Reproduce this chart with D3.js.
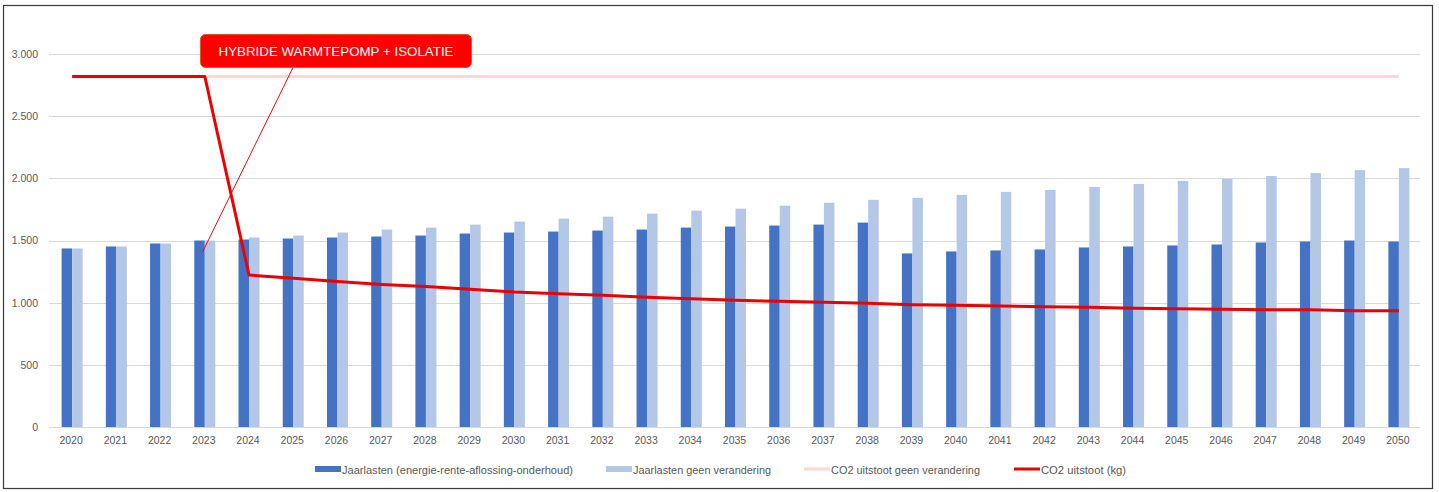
<!DOCTYPE html>
<html>
<head>
<meta charset="utf-8">
<script src="https://cdn.jsdelivr.net/npm/d3@7"></script>
<style>
  html, body { margin: 0; padding: 0; background: #fff; }
  svg { display: block; }
  text { font-family: "Liberation Sans", Arial, sans-serif; }
</style>
</head>
<body>
<svg id="chart" width="1439" height="492"></svg>
<script>
// ---- data ----
const years = [2020,2021,2022,2023,2024,2025,2026,2027,2028,2029,2030,2031,2032,2033,2034,2035,2036,2037,2038,2039,2040,2041,2042,2043,2044,2045,2046,2047,2048,2049,2050];
const jaarlasten = [1436,1452,1476,1500,1508,1516,1524,1532,1540,1556,1564,1572,1580,1588,1604,1612,1620,1628,1644,1396,1412,1420,1428,1444,1452,1460,1468,1484,1492,1500,1492];
const jaarlastenGeen = [1436,1452,1476,1500,1524,1540,1564,1588,1604,1628,1652,1676,1692,1716,1740,1756,1780,1804,1827,1843,1867,1891,1907,1931,1955,1979,1995,2019,2043,2066,2082];
const co2Geen = [2820,2820,2820,2820,2820,2820,2820,2820,2820,2820,2820,2820,2820,2820,2820,2820,2820,2820,2820,2820,2820,2820,2820,2820,2820,2820,2820,2820,2820,2820,2820];
const co2 = [2820,2820,2820,2820,1222,1197,1170,1147,1130,1108,1086,1072,1059,1043,1032,1019,1011,1003,995,984,979,973,968,963,955,952,947,944,944,934,934];
const yTicks = [0,500,1000,1500,2000,2500,3000];
const seriesNames = ["Jaarlasten (energie-rente-aflossing-onderhoud)","Jaarlasten geen verandering","CO2 uitstoot geen verandering","CO2 uitstoot (kg)"];
const annotationText = "HYBRIDE WARMTEPOMP + ISOLATIE";
const annotationYear = 2023;

// ---- layout ----
const svg = d3.select("#chart");
const plot = {left: 49, right: 1420, top: 54, bottom: 427};
const colDark = "#4472C4", colLight = "#B4C7E7", colPink = "#FFD5D5", colRed = "#EE0000";
const fmt = v => d3.format(",")(v).replace(/,/g, ".");

svg.append("rect").attr("x", 3.5).attr("y", 5.5).attr("width", 1429).attr("height", 483)
  .attr("fill", "#fff").attr("stroke", "#3a3a3a").attr("stroke-width", 1.2);

const x = d3.scaleBand().domain(years).range([plot.left, plot.right]).paddingInner(0).paddingOuter(0);
const y = d3.scaleLinear().domain([0, 3000]).range([plot.bottom, plot.top]);
const barW = 10.5;

// gridlines
svg.append("g").selectAll("line").data(yTicks).join("line")
  .attr("x1", plot.left).attr("x2", plot.right)
  .attr("y1", d => Math.round(y(d)) + 0.5).attr("y2", d => Math.round(y(d)) + 0.5)
  .attr("stroke", "#D9D9D9").attr("stroke-width", 1);

// y axis labels
const yAxis = d3.axisLeft(y).tickValues(yTicks).tickFormat(fmt).tickSize(0).tickPadding(0);
const ya = svg.append("g").attr("transform", `translate(38,0)`).call(yAxis);
ya.select(".domain").remove();
ya.selectAll("text").attr("fill", "#595959").style("font-size", "10.5px").style("font-family", "Liberation Sans, Arial, sans-serif");

// x axis labels
const xAxis = d3.axisBottom(x).tickSize(0).tickPadding(0);
const xa = svg.append("g").attr("transform", `translate(0,437)`).call(xAxis);
xa.select(".domain").remove();
xa.selectAll("text").attr("fill", "#595959").style("font-size", "10.5px").style("font-family", "Liberation Sans, Arial, sans-serif");

// bars
const cx = d => x(d) + x.bandwidth() / 2 + 1;
svg.append("g").selectAll("rect").data(years).join("rect")
  .attr("x", (d) => cx(d) - barW).attr("width", barW)
  .attr("y", (d, i) => y(jaarlasten[i])).attr("height", (d, i) => y(0) - y(jaarlasten[i]))
  .attr("fill", colDark);
svg.append("g").selectAll("rect").data(years).join("rect")
  .attr("x", (d) => cx(d)).attr("width", barW)
  .attr("y", (d, i) => y(jaarlastenGeen[i])).attr("height", (d, i) => y(0) - y(jaarlastenGeen[i]))
  .attr("fill", colLight);

// baseline
svg.append("line").attr("x1", plot.left).attr("x2", plot.right)
  .attr("y1", Math.round(y(0)) + 0.5).attr("y2", Math.round(y(0)) + 0.5)
  .attr("stroke", "#D9D9D9");

// lines
const lineGen = arr => d3.line().x((d, i) => cx(years[i])).y((d) => y(d))(arr);
svg.append("path").attr("d", lineGen(co2Geen)).attr("fill", "none")
  .attr("stroke", colPink).attr("stroke-width", 3);
svg.append("path").attr("d", lineGen(co2)).attr("fill", "none")
  .attr("stroke", colRed).attr("stroke-width", 3).attr("stroke-linejoin", "round");

// annotation callout
const annIdx = years.indexOf(annotationYear);
const box = {x: 200.5, y: 34.5, w: 271, h: 33};
svg.append("line")
  .attr("x1", cx(annotationYear) - 2).attr("y1", y(jaarlasten[annIdx]) + 11)
  .attr("x2", 293).attr("y2", box.y + box.h)
  .attr("stroke", "#FF0000").attr("stroke-width", 1);
svg.append("rect").attr("x", box.x).attr("y", box.y).attr("width", box.w).attr("height", box.h)
  .attr("rx", 5).attr("ry", 5).attr("fill", "#FF0000").attr("stroke", "#E0561B").attr("stroke-width", 1);
svg.append("text").attr("x", box.x + box.w / 2).attr("y", box.y + box.h / 2 + 4.5)
  .attr("text-anchor", "middle").attr("fill", "#fff").style("font-size", "13px")
  .attr("textLength", 235).attr("lengthAdjust", "spacingAndGlyphs")
  .text(annotationText);

// legend
const legendItems = [
  {name: seriesNames[0], type: "rect", color: colDark, x: 315, tw: 231},
  {name: seriesNames[1], type: "rect", color: colLight, x: 606, tw: 138},
  {name: seriesNames[2], type: "line", color: colPink, x: 804, tw: 149},
  {name: seriesNames[3], type: "line", color: colRed, x: 1014, tw: 85}
];
const lg = svg.append("g");
legendItems.forEach(it => {
  if (it.type === "rect") {
    lg.append("rect").attr("x", it.x).attr("y", 466).attr("width", 26).attr("height", 6).attr("fill", it.color);
  } else {
    lg.append("line").attr("x1", it.x).attr("x2", it.x + 26).attr("y1", 469).attr("y2", 469)
      .attr("stroke", it.color).attr("stroke-width", 3);
  }
  lg.append("text").attr("x", it.x + 27).attr("y", 474).attr("fill", "#595959")
    .style("font-size", "11px").attr("textLength", it.tw).attr("lengthAdjust", "spacingAndGlyphs")
    .text(it.name);
});
</script>
</body>
</html>
